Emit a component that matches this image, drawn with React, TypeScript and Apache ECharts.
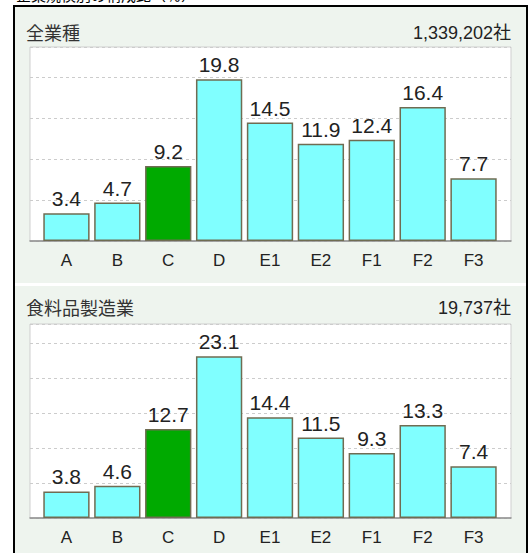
import React, { useEffect, useRef } from "react";
import * as echarts from "echarts";

const categories = ["A", "B", "C", "D", "E1", "E2", "F1", "F2", "F3"];
const allIndustryValues = [3.4, 4.7, 9.2, 19.8, 14.5, 11.9, 12.4, 16.4, 7.7];
const foodValues = [3.8, 4.6, 12.7, 23.1, 14.4, 11.5, 9.3, 13.3, 7.4];
const highlightCategory = "C";
const panelTitles = ["全業種", "食料品製造業"];
const companyCounts = ["1,339,202社", "19,737社"];
const headerText = "企業規模別の構成比（％）";

const SANS = "'Liberation Sans', 'Noto Sans CJK JP', sans-serif";
const CJK = "'Noto Sans CJK JP', sans-serif";

export default function App() {
  const ref = useRef<HTMLDivElement>(null);

  useEffect(() => {
    if (!ref.current) return;
    const chart = echarts.init(ref.current, undefined, { renderer: "svg" });

    const panels = [
      { values: allIndustryValues, top: 47 },
      { values: foodValues, top: 324 },
    ];
    const plotH = 194;

    const grids: any[] = [];
    const xAxes: any[] = [];
    const yAxes: any[] = [];
    const series: any[] = [];

    panels.forEach((p, i) => {
      const maxV = Math.max(...p.values) * 1.2;
      const bgIdx = i * 2;
      const barIdx = i * 2 + 1;
      grids.push({
        left: 30,
        top: p.top,
        width: 481,
        height: plotH,
        show: true,
        backgroundColor: "#ffffff",
        borderColor: "#cfcfcf",
        borderWidth: 1,
      });
      grids.push({ left: 41, top: p.top, width: 458, height: plotH });
      xAxes.push({
        gridIndex: bgIdx,
        type: "category",
        data: categories,
        axisLine: { show: true, lineStyle: { color: "#8f8f8f", width: 1.5 } },
        axisTick: { show: false },
        axisLabel: { show: false },
        splitLine: { show: false },
      });
      xAxes.push({
        gridIndex: barIdx,
        type: "category",
        data: categories,
        axisLine: { show: false },
        axisTick: { show: false },
        axisLabel: {
          show: true,
          margin: 11,
          fontFamily: SANS,
          fontSize: 17,
          color: "#222222",
        },
      });
      yAxes.push({
        gridIndex: bgIdx,
        type: "value",
        min: 0,
        max: maxV,
        interval: 5,
        axisLine: { show: false },
        axisTick: { show: false },
        axisLabel: { show: false },
        splitLine: {
          show: true,
          lineStyle: { color: "#cccccc", type: [3, 3], width: 1 },
        },
      });
      yAxes.push({
        gridIndex: barIdx,
        type: "value",
        min: 0,
        max: maxV,
        show: false,
        splitLine: { show: false },
      });
      series.push({
        type: "bar",
        xAxisIndex: barIdx,
        yAxisIndex: barIdx,
        barWidth: "91%",
        data: p.values.map((v, k) => ({
          value: v,
          itemStyle: {
            color: categories[k] === highlightCategory ? "#00aa00" : "#80ffff",
          },
        })),
        itemStyle: { borderColor: "#6f6c52", borderWidth: 1.5 },
        label: {
          show: true,
          position: "top",
          distance: 4,
          fontFamily: SANS,
          fontSize: 21,
          color: "#222222",
        },
      });
    });

    const graphic: any[] = [
      {
        type: "rect",
        z: -10,
        silent: true,
        shape: { x: 15, y: 7, width: 511, height: 276 },
        style: { fill: "#eef4ee" },
      },
      {
        type: "rect",
        z: -10,
        silent: true,
        shape: { x: 15, y: 286, width: 511, height: 280 },
        style: { fill: "#eef4ee" },
      },
      {
        type: "rect",
        z: -9,
        silent: true,
        shape: { x: 14, y: 6, width: 513, height: 570 },
        style: { fill: "none", stroke: "#000000", lineWidth: 2 },
      },
      {
        type: "text",
        z: 10,
        x: 16,
        y: 2,
        style: {
          text: headerText,
          font: `15px ${CJK}`,
          fill: "#000000",
          verticalAlign: "bottom",
          align: "left",
        },
      },
    ];
    const titleYs = [32, 307];
    panelTitles.forEach((t, i) => {
      graphic.push({
        type: "text",
        z: 10,
        x: 26,
        y: titleYs[i],
        style: {
          text: t,
          font: `18px ${CJK}`,
          fill: "#333333",
          verticalAlign: "middle",
          align: "left",
        },
      });
      graphic.push({
        type: "text",
        z: 10,
        x: 511,
        y: titleYs[i] + 1,
        style: {
          text: companyCounts[i],
          font: `18px ${SANS}`,
          fill: "#222222",
          verticalAlign: "middle",
          align: "right",
        },
      });
    });

    chart.setOption({
      animation: false,
      backgroundColor: "#ffffff",
      grid: grids,
      xAxis: xAxes,
      yAxis: yAxes,
      series,
      graphic,
    });

    return () => chart.dispose();
  }, []);

  return (
    <div
      ref={ref}
      style={{ position: "fixed", left: 0, top: 0, width: 531, height: 553 }}
    />
  );
}
